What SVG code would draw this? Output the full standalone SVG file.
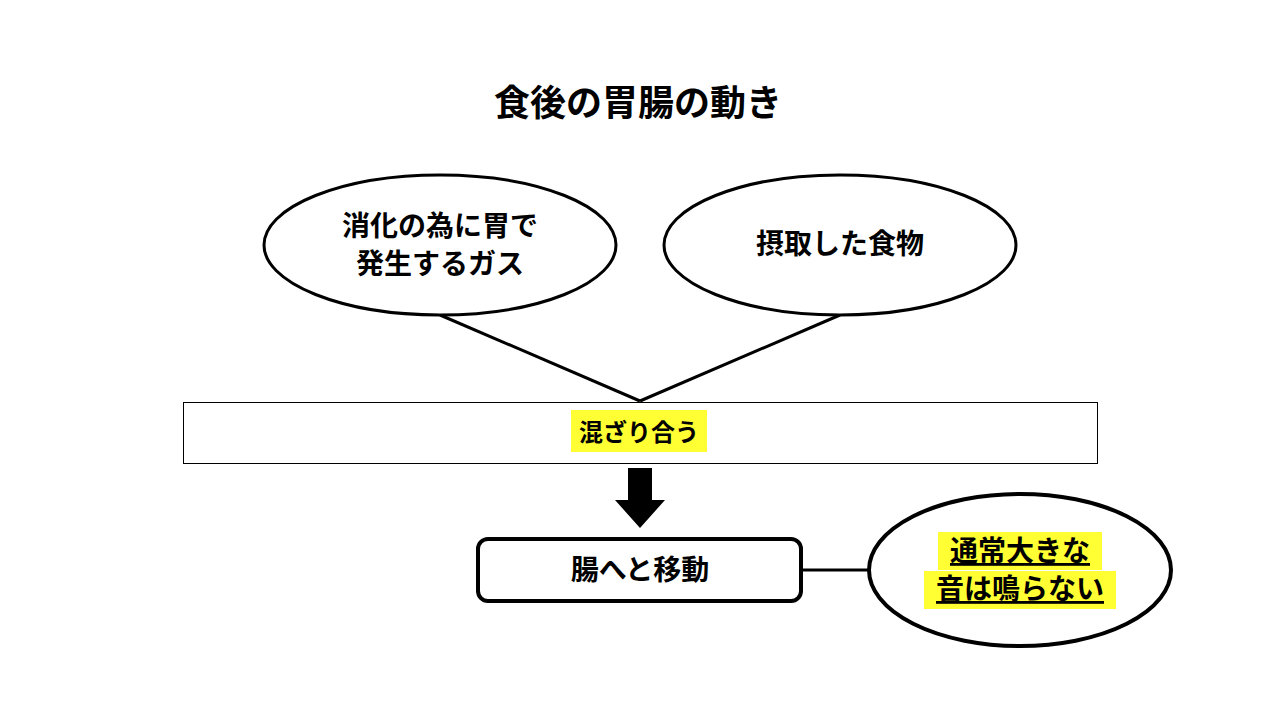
<svg xmlns="http://www.w3.org/2000/svg" width="1280" height="720" viewBox="0 0 1280 720">
<style>
text{font-family:"Noto Sans CJK JP","Noto Sans",sans-serif;font-weight:bold;fill:#000;text-anchor:middle}
.n{fill:#fff;stroke:#000;stroke-width:3}
.hl{fill:#ffff33}
</style>
<rect width="1280" height="720" fill="#fff"/>
<text x="638" y="116" font-size="36">食後の胃腸の動き</text>
<g id="connectors" stroke="#000" stroke-width="3" fill="none">
<line x1="440" y1="315" x2="640" y2="401"/>
<line x1="840" y1="315" x2="640" y2="401"/>
<line x1="802" y1="570" x2="870" y2="570"/>
<polygon points="628,468 652,468 652,500 665,500 640,528 615,500 628,500" fill="#000" stroke="none"/>
</g>
<g id="gas">
<ellipse class="n" cx="440" cy="245" rx="176" ry="70"/>
<text x="440" y="236" font-size="28">消化の為に胃で</text>
<text x="440" y="274" font-size="28">発生するガス</text>
</g>
<g id="food">
<ellipse class="n" cx="840" cy="245" rx="176" ry="70"/>
<text x="840" y="254" font-size="28">摂取した食物</text>
</g>
<g id="mix">
<rect x="183.5" y="402.5" width="914" height="61" fill="#fff" stroke="#000" stroke-width="1"/>
<rect class="hl" x="571" y="410" width="136" height="42"/>
<text x="639" y="441" font-size="24">混ざり合う</text>
</g>
<g id="move">
<rect x="478" y="539" width="323" height="62" rx="10" fill="#fff" stroke="#000" stroke-width="4"/>
<text x="640" y="580" font-size="28">腸へと移動</text>
</g>
<g id="sound">
<ellipse cx="1020" cy="570" rx="151" ry="76" fill="#fff" stroke="#000" stroke-width="4"/>
<rect class="hl" x="938" y="532" width="164" height="38"/>
<rect class="hl" x="924" y="571" width="192" height="38"/>
<text x="1020" y="561" font-size="28" text-decoration="underline">通常大きな</text>
<text x="1020" y="599" font-size="28" text-decoration="underline">音は鳴らない</text>
</g>
</svg>
